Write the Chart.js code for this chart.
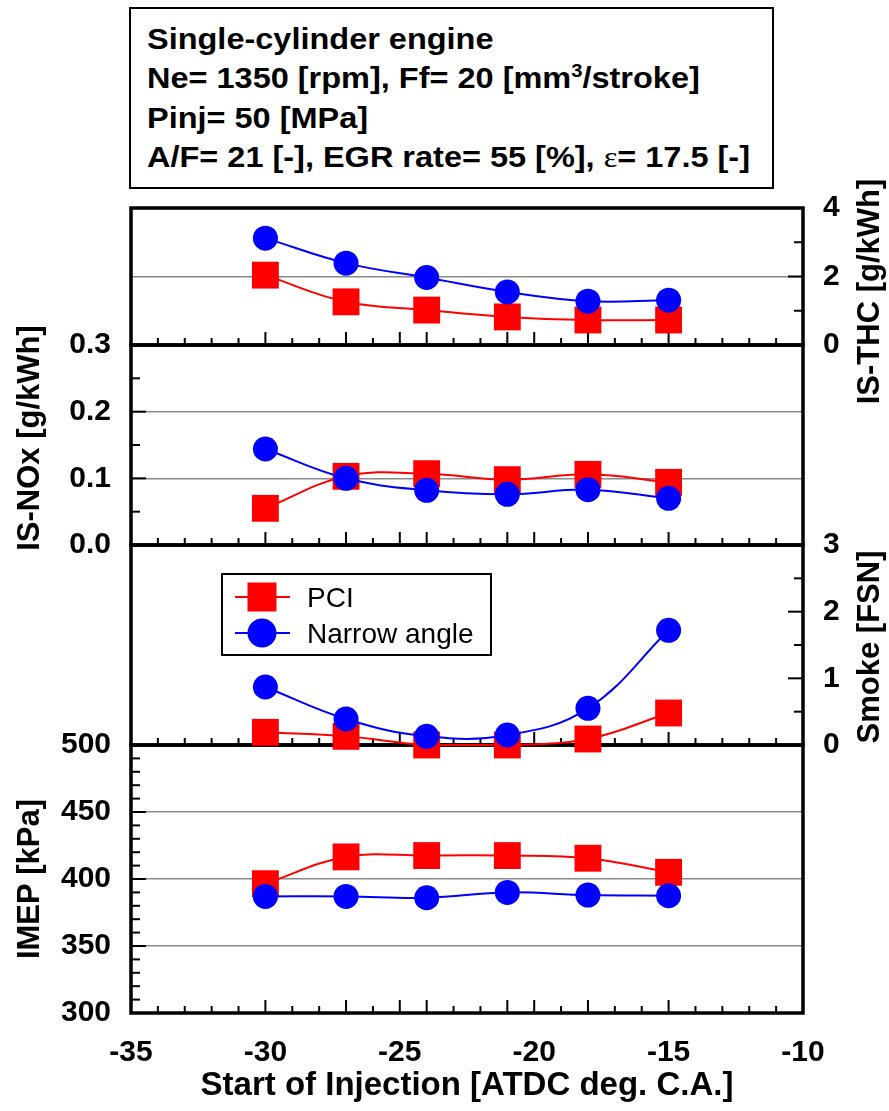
<!DOCTYPE html>
<html><head><meta charset="utf-8">
<script src="https://cdn.jsdelivr.net/npm/chart.js@4.4.0/dist/chart.umd.min.js"></script>
<style>
html,body{margin:0;padding:0;background:#fff;}
#wrap{position:relative;width:889px;height:1111px;overflow:hidden;background:#fff;}
canvas{position:absolute;left:0;top:0;}
#info{position:absolute;left:129px;top:7px;
  font-family:'Liberation Sans',Arial,sans-serif;font-weight:bold;font-size:29px;line-height:39.3px;
  border:2px solid #000;padding-top:11px;box-sizing:border-box;height:182px;width:645px;}
#info .l{white-space:nowrap;transform:scaleX(1.12);transform-origin:left center;margin-left:16px;}
#info sup{font-size:18px;line-height:0;vertical-align:11px;}
#info .eps{font-family:'Liberation Serif',serif;font-weight:normal;}
</style></head>
<body>
<div id="wrap">
  <div id="info">
    <div class="l">Single-cylinder engine</div>
    <div class="l">Ne= 1350 [rpm], Ff= 20 [mm<sup>3</sup>/stroke]</div>
    <div class="l">Pinj= 50 [MPa]</div>
    <div class="l">A/F= 21 [-], EGR rate= 55 [%], <span class="eps">ε</span>= 17.5 [-]</div>
  </div>
  <canvas id="c4" width="889" height="1111" style="z-index:1"></canvas>
  <canvas id="c1" width="889" height="1111" style="z-index:2"></canvas>
  <canvas id="c2" width="889" height="1111" style="z-index:3"></canvas>
  <canvas id="c3" width="889" height="1111" style="z-index:4"></canvas>
</div>
<script>
// ---- data ----
const sois = [-30, -27, -24, -21, -18, -15];
const seriesNames = ['PCI', 'Narrow angle'];
const thcPCI     = [2.04, 1.26, 1.02, 0.82, 0.73, 0.73];
const thcNarrow  = [3.12, 2.39, 1.97, 1.55, 1.28, 1.31];
const noxPCI     = [0.055, 0.103, 0.107, 0.098, 0.106, 0.094];
const noxNarrow  = [0.144, 0.100, 0.082, 0.076, 0.083, 0.070];
const smokePCI   = [0.19, 0.13, 0.00, 0.00, 0.09, 0.48];
const smokeNarrow= [0.87, 0.39, 0.13, 0.15, 0.55, 1.72];
const imepPCI    = [396.5, 416.5, 417.5, 417.5, 415.5, 405];
const imepNarrow = [387, 387, 386, 390, 388, 387.5];
const xTicks     = [-35, -30, -25, -20, -15, -10];
const thcTicks   = [0, 2, 4];
const noxTicks   = [0, 0.1, 0.2, 0.3];
const smokeTicks = [0, 1, 2, 3];
const imepTicks  = [300, 350, 400, 450, 500];
const xTitle = 'Start of Injection [ATDC deg. C.A.]';

const FONT = "'Liberation Sans', Arial, sans-serif";
Chart.defaults.font.family = FONT;
Chart.defaults.color = '#000';

const RED = '#ff0000', BLUE = '#0000ff';

function makeSets(a, b) {
  return [
    { label: seriesNames[0], data: sois.map((x, i) => ({x, y: a[i]})), borderColor: RED, backgroundColor: RED,
      pointBackgroundColor: RED, pointBorderColor: RED, pointBorderWidth: 0, borderWidth: 2,
      pointStyle: 'rect', pointRadius: 19, tension: 0.4, clip: false, order: 2 },
    { label: seriesNames[1], data: sois.map((x, i) => ({x, y: b[i]})), borderColor: BLUE, backgroundColor: BLUE,
      pointBackgroundColor: BLUE, pointBorderColor: BLUE, pointBorderWidth: 0, borderWidth: 2,
      pointStyle: 'circle', pointRadius: 12.5, tension: 0.4, clip: false, order: 1 }
  ];
}

const framePlugin = {
  id: 'frame',
  beforeDatasetsDraw(chart, args, o) {
    const {ctx, chartArea: a, scales} = chart;
    ctx.save();
    ctx.strokeStyle = '#000';
    ctx.lineWidth = 2;
    const xs = scales.x;
    for (let v = Math.round(xs.min) + 1; v < xs.max; v += 1) {
      const px = xs.getPixelForValue(v);
      const long = (v % 5 === 0) || sois.includes(v);
      const len = long ? 13 : 7;
      ctx.beginPath(); ctx.moveTo(px, a.bottom); ctx.lineTo(px, a.bottom - len); ctx.stroke();
    }
    const ys = scales.y;
    const n = Math.round((ys.max - ys.min) / o.yMinor);
    for (let i = 1; i < n; i++) {
      const v = ys.min + i * o.yMinor;
      const py = ys.getPixelForValue(v);
      const major = ys.ticks.some(t => Math.abs(t.value - v) < 1e-9);
      const len = major ? 15 : 9;
      ctx.beginPath();
      if (ys.position === 'left') { ctx.moveTo(a.left, py); ctx.lineTo(a.left + len, py); }
      else { ctx.moveTo(a.right, py); ctx.lineTo(a.right - len, py); }
      ctx.stroke();
    }
    ctx.lineWidth = 3.5;
    ctx.strokeRect(a.left, a.top, a.right - a.left, a.bottom - a.top);
    ctx.restore();
  },
  afterDraw(chart, args, o) {
    // rotated y-axis title (reads bottom-to-top on both sides)
    const {ctx, chartArea: a, scales} = chart;
    const ys = scales.y;
    const cx = ys.position === 'left' ? ys.left + o.titleOffset : ys.right - o.titleOffset;
    const cy = (a.top + a.bottom) / 2 + o.titleShift;
    ctx.save();
    ctx.translate(cx, cy);
    ctx.rotate(-Math.PI / 2);
    ctx.font = "bold 31px " + FONT;
    ctx.fillStyle = '#000';
    ctx.textAlign = 'center';
    ctx.textBaseline = 'middle';
    ctx.fillText(o.title, 0, 0);
    ctx.restore();
  }
};

const legendPlugin = {
  id: 'boxLegend',
  afterDatasetsDraw(chart, args, o) {
    if (!o.show) return;
    const {ctx, chartArea: a} = chart;
    const x0 = a.left + o.dx, y0 = a.top + o.dy;
    ctx.save();
    ctx.fillStyle = '#fff';
    ctx.fillRect(x0, y0, o.w, o.h);
    ctx.lineWidth = 2; ctx.strokeStyle = '#000';
    ctx.strokeRect(x0, y0, o.w, o.h);
    chart.data.datasets.forEach((ds, i) => {
      const cy = y0 + o.firstRow + i * o.rowGap;
      ctx.strokeStyle = ds.borderColor; ctx.lineWidth = 2;
      ctx.beginPath(); ctx.moveTo(x0 + 13, cy); ctx.lineTo(x0 + 68, cy); ctx.stroke();
      ctx.fillStyle = ds.pointBackgroundColor;
      Chart.helpers.drawPoint(ctx, {pointStyle: ds.pointStyle, radius: ds.pointStyle === 'rect' ? 20.5 : 14.5, rotation: 0, borderWidth: 0}, x0 + 40, cy);
      ctx.fillStyle = '#000';
      ctx.font = "28px " + FONT;
      ctx.textAlign = 'left'; ctx.textBaseline = 'middle';
      ctx.fillText(ds.label, x0 + 85, cy + 2);
    });
    ctx.restore();
  }
};

function yScale(pos, min, max, ticks, gridVals, dec) {
  return {
    type: 'linear', position: pos, min, max,
    afterBuildTicks: s => { s.ticks = ticks.map(v => ({value: v})); },
    ticks: { font: {size: 30, weight: 'bold'}, color: '#000', padding: 20,
             callback: v => Number(v).toFixed(dec) },
    grid: { drawTicks: false, lineWidth: 1.5,
            color: c => (c.tick && gridVals.includes(c.tick.value)) ? '#8a8a8a' : 'rgba(0,0,0,0)' },
    border: { display: false },
    afterFit: s => { s.width = pos === 'left' ? 131 : 86; }
  };
}

function xScale(bottom) {
  return {
    type: 'linear', position: 'bottom', min: -35, max: -10,
    afterBuildTicks: s => { s.ticks = xTicks.map(v => ({value: v})); },
    ticks: { display: bottom, font: {size: 30, weight: 'bold'}, color: '#000', padding: 22, maxRotation: 0 },
    grid: { display: false, drawTicks: false },
    border: { display: false },
    title: { display: bottom, text: xTitle, font: {size: 33, weight: 'bold'}, color: '#000', padding: {top: 0, bottom: 5} },
    afterFit: s => { s.height = bottom ? 98 : 0; }
  };
}

function panel(id, a, b, top, bottom, yPos, yMin, yMax, ticks, grid, dec, yMinor, title, tOff, tShift, isBottom, legend) {
  const padding = {
    top: top,
    bottom: isBottom ? 0 : 1111 - bottom,
    left: yPos === 'left' ? 0 : 131,
    right: yPos === 'left' ? 86 : 0
  };
  new Chart(document.getElementById(id), {
    type: 'line',
    data: { datasets: makeSets(a, b) },
    options: {
      responsive: false, animation: false, devicePixelRatio: 1,
      layout: { padding, autoPadding: false },
      scales: { x: xScale(isBottom), y: yScale(yPos, yMin, yMax, ticks, grid, dec) },
      plugins: {
        legend: { display: false }, tooltip: { enabled: false },
        frame: { yMinor, title, titleOffset: tOff, titleShift: tShift },
        boxLegend: legend || { show: false }
      }
    },
    plugins: [framePlugin, legendPlugin]
  });
}

panel('c1', thcPCI, thcNarrow, 208, 345, 'right', 0, 4, thcTicks, [2], 0, 1, 'IS-THC [g/kWh]', 19, 15, false);
panel('c2', noxPCI, noxNarrow, 345, 545, 'left', 0, 0.3, noxTicks, [0.1, 0.2], 1, 0.05, 'IS-NOx [g/kWh]', 30, -7, false);
panel('c3', smokePCI, smokeNarrow, 545, 745, 'right', 0, 3, smokeTicks, [], 0, 0.5, 'Smoke [FSN]', 19, 2, false,
      { show: true, dx: 91, dy: 29, w: 269, h: 81, firstRow: 23, rowGap: 36 });
panel('c4', imepPCI, imepNarrow, 745, 1013, 'left', 300, 500, imepTicks, [350, 400, 450], 0, 10, 'IMEP [kPa]', 30, 0, true);
</script>
</body></html>
